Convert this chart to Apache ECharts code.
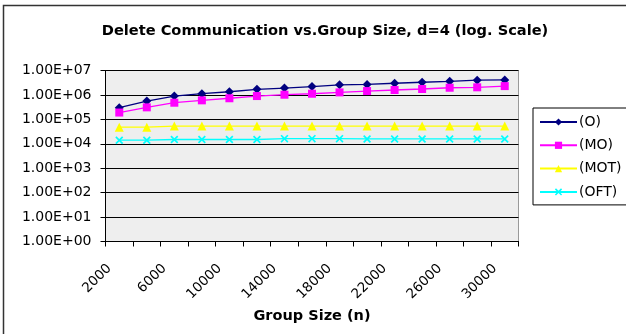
<!DOCTYPE html>
<html>
<head>
<meta charset="utf-8">
<script src="https://cdn.jsdelivr.net/npm/echarts@6/dist/echarts.min.js"></script>
<style>
html,body{margin:0;padding:0;background:#fff;}
#c{width:626px;height:334px;}
</style>
</head>
<body>
<div id="c"></div>
<script>
const categories = ['2000','4000','6000','8000','10000','12000','14000','16000','18000','20000','22000','24000','26000','28000','30000'];
const seriesNames = ['(O)','(MO)','(MOT)','(OFT)'];
const valuesO   = [3.0e5,5.6e5,9.0e5,1.12e6,1.35e6,1.7e6,1.9e6,2.2e6,2.6e6,2.7e6,3.0e6,3.3e6,3.6e6,4.0e6,4.1e6];
const valuesMO  = [1.9e5,3.1e5,4.8e5,6.0e5,7.3e5,9.0e5,1.02e6,1.12e6,1.27e6,1.44e6,1.59e6,1.75e6,1.97e6,2.05e6,2.3e6];
const valuesMOT = [4.8e4,4.8e4,5.3e4,5.3e4,5.3e4,5.3e4,5.3e4,5.3e4,5.3e4,5.3e4,5.3e4,5.3e4,5.3e4,5.3e4,5.3e4];
const valuesOFT = [1.4e4,1.4e4,1.5e4,1.5e4,1.5e4,1.5e4,1.62e4,1.62e4,1.62e4,1.58e4,1.58e4,1.58e4,1.58e4,1.58e4,1.58e4];

const FONT = 'DejaVu Sans, sans-serif';
const xSym = 'path://M0,1.5L1.5,0L5,3.5L8.5,0L10,1.5L6.5,5L10,8.5L8.5,10L5,6.5L1.5,10L0,8.5L3.5,5Z';

function mk(name, data, color, symbol, size){
  return {
    name, type:'line', data, symbol, symbolSize:size,
    lineStyle:{color, width:1.3},
    itemStyle:{color},
    emphasis:{disabled:true},
    animation:false
  };
}

const chart = echarts.init(document.getElementById('c'));
chart.setOption({
  backgroundColor:'#ffffff',
  animation:false,
  title:{
    text:'Delete Communication vs.Group Size, d=4 (log. Scale)',
    left:320, top:19, textAlign:'center',
    textStyle:{fontFamily:FONT, fontSize:14.6, fontWeight:'bold', color:'#000'}
  },
  graphic:[{
    type:'rect', shape:{x:3.5,y:5.5,width:700,height:400},
    style:{fill:null, stroke:'#333', lineWidth:1.5}, silent:true, z:-10
  }],
  legend:{
    orient:'vertical', left:533, top:108,
    width:120,
    padding:[7,6,6,6],
    itemGap:9.3, itemWidth:37, itemHeight:9,
    borderColor:'#000', borderWidth:1,
    backgroundColor:'#fff',
    textStyle:{fontFamily:FONT, fontSize:14, color:'#000', padding:[0,0,0,-3]},
    data:seriesNames
  },
  grid:{
    left:105.5, right:107.5, top:70.5, bottom:92.5,
    show:true, backgroundColor:'#eeeeee', borderColor:'#999', borderWidth:1,
    containLabel:false
  },
  xAxis:{
    type:'category', data:categories, boundaryGap:true,
    name:'Group Size (n)', nameLocation:'middle', nameGap:64,
    nameTextStyle:{fontFamily:FONT, fontSize:14.5, fontWeight:'bold', color:'#000'},
    axisLine:{lineStyle:{color:'#000', width:1}},
    axisTick:{show:true, interval:0, length:5, lineStyle:{color:'#000'}},
    axisLabel:{interval:1, rotate:45, fontFamily:FONT, fontSize:13.5, color:'#000', margin:15, padding:[0,14,0,0]},
    splitLine:{show:false}
  },
  yAxis:{
    type:'log', logBase:10, min:1, max:1e7,
    axisLine:{show:true, lineStyle:{color:'#000', width:1}},
    axisTick:{show:true, length:5, lineStyle:{color:'#000'}},
    axisLabel:{
      fontFamily:FONT, fontSize:14, color:'#000', margin:14,
      formatter:function(v){
        const e = Math.round(Math.log10(v));
        return '1.00E+' + (e < 10 ? '0' : '') + e;
      }
    },
    splitLine:{show:true, lineStyle:{color:'#000', width:1}},
    minorTick:{show:false}
  },
  series:[
    mk(seriesNames[0], valuesO, '#000080', 'diamond', 9),
    mk(seriesNames[1], valuesMO, '#ff00ff', 'rect', 8),
    mk(seriesNames[2], valuesMOT, '#ffff00', 'triangle', 9),
    mk(seriesNames[3], valuesOFT, '#00ffff', xSym, 8)
  ]
});
</script>
</body>
</html>
